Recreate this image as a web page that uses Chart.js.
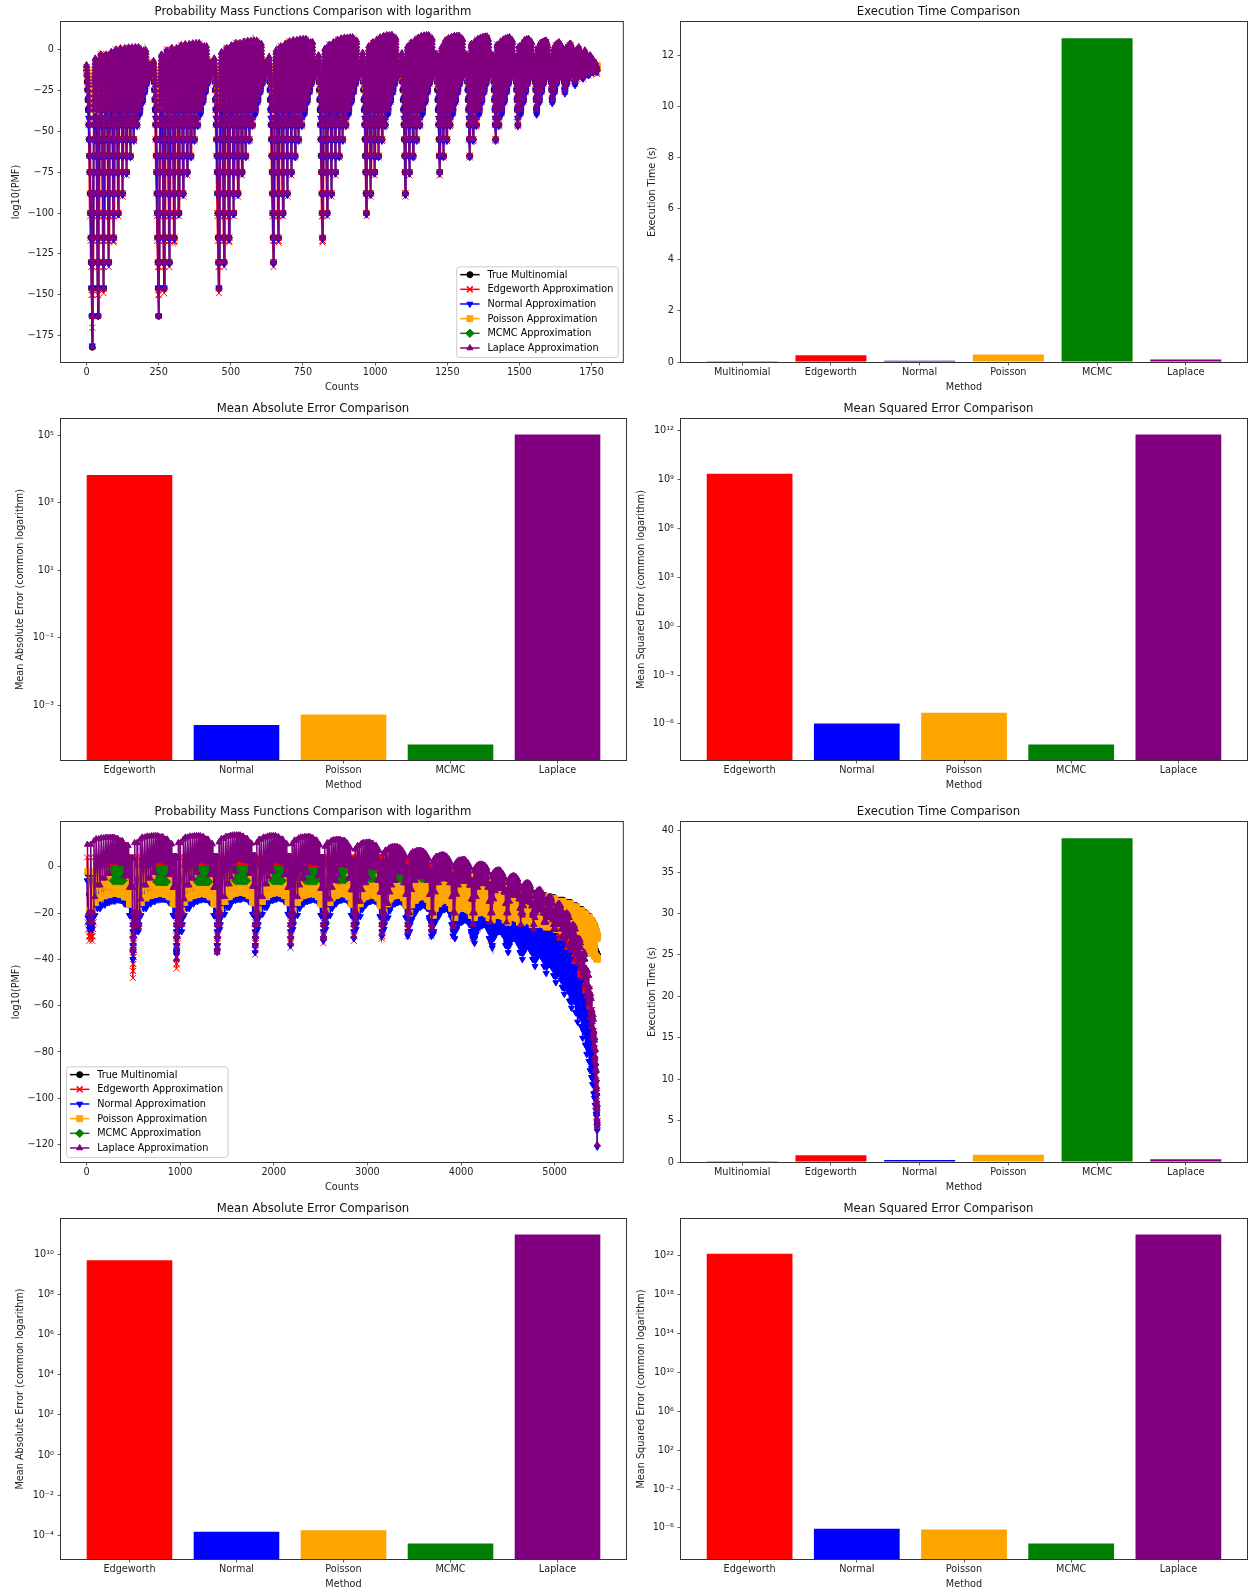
<!DOCTYPE html>
<html>
<head>
<meta charset="utf-8">
<script src="https://cdn.jsdelivr.net/npm/chart.js@4/dist/chart.umd.min.js"></script>
<style>
html, body { margin: 0; padding: 0; background: #fff; }
#page { position: relative; width: 1249px; height: 1591px; overflow: hidden; }
#page canvas { position: absolute; }
</style>
</head>
<body>
<div id="page"></div>
<script>
// ---------------- data ----------------

// bar charts
const methodsAll = ['Multinomial', 'Edgeworth', 'Normal', 'Poisson', 'MCMC', 'Laplace'];
const methodsApprox = ['Edgeworth', 'Normal', 'Poisson', 'MCMC', 'Laplace'];

const execTime1 = [0.03, 0.26, 0.05, 0.29, 12.68, 0.1];
const absError1 = [6600, 2.6e-4, 5.3e-4, 6.9e-5, 1.05e5];
const sqError1 = [2.3e9, 1.05e-6, 4.9e-6, 5.4e-8, 6.0e11];

const execTime2 = [0.1, 0.8, 0.25, 0.88, 39.1, 0.33];
const absError2 = [5.0e9, 1.5e-4, 1.8e-4, 3.9e-5, 9.5e10];
const sqError2 = [1.6e22, 8.5e-7, 6.8e-7, 2.5e-8, 1.55e24];

const execTicks1 = [0, 2, 4, 6, 8, 10, 12];
const execTicks2 = [0, 5, 10, 15, 20, 25, 30, 35, 40];
const absPowers1 = [-3, -1, 1, 3, 5];
const sqPowers1 = [-6, -3, 0, 3, 6, 9, 12];
const absPowers2 = [-4, -2, 0, 2, 4, 6, 8, 10];
const sqPowers2 = [-6, -2, 2, 6, 10, 14, 18, 22];

// PMF, first run: 20 trials over 4 categories, outcomes grouped in humps by the first count.
// Top lists hold the run peaks across each hump (left to right), dip lists the bottom levels,
// level lists the values the lines pass through on the way down and up.
const trials1 = 20;
const countTicks1 = [0, 250, 500, 750, 1000, 1250, 1500, 1750];
const logTicks1 = [-175, -150, -125, -100, -75, -50, -25, 0];

const laplaceTop1 = [
  [-9.5, -5.5, -3, -1.5, 0, 0.8, 1.3, 1.5, -0.5, -9.5],
  [-7, -3, -0.5, 1, 2.5, 3.3, 3.8, 4, 2, -8],
  [-5.5, -1.5, 1, 2.5, 4, 4.8, 5.3, 5.5, 3.5, -8],
  [-4.5, -0.5, 2, 3.5, 5, 5.8, 6.3, 6.5, 4.5, -8],
  [-3.5, 0.5, 3, 4.5, 6, 6.8, 7.3, 7.5, 5.5, -8],
  [-2, 2, 4.5, 6, 7.5, 8.3, 8.8, 9, 7, -8],
  [-2.2, 1.8, 4.3, 5.8, 7.3, 8.1, 8.6, 8.8, 6.8, -8],
  [-2.5, 1.5, 4, 5.5, 7, 7.8, 8.3, 8.5, 6.5, -8],
  [-3, 1, 3.5, 5, 6.5, 7.3, 7.8, 8, 6, -8],
  [-3.5, 0.5, 3, 4.5, 6, 6.8, 7.3, 7.5, 5.5, -8],
  [-4.5, -0.5, 2, 3.5, 5, 5.8, 6.3, 6.5, 4.5, -8],
  [-5.5, -1.5, 1, 2.5, 4, 4.8, 5.3, 5.5, 3.5, -8],
  [-6.5, -2.5, 0, 1.5, 3, 3.8, 4.3, 4.5, 2.5, -8],
  [-7.5, -3.5, -1, 0.5, 2, 2.8, 3.3, 3.5, 1.5, -8],
  [-9, -5, -2.5, -1, 0.5, 1.2, 1.5, -0.5, -9],
  [-10, -5, -2.5, -1, -0.5, -2.5, -10],
  [-10, -6, -4, -3.5, -10],
  [-10, -7, -6, -10],
  [-11, -8, -11],
  [-11, -10],
  [-12]
];
const laplaceDips1 = [-182, -163, -146, -130, -115, -100, -88, -75, -65, -55, -46, -37, -31, -25, -20, -17, -15, -14, -13, -12.5, -12];
const laplaceLevels1 = [-182, -163, -146, -130, -115, -100, -88, -75, -65, -55, -46, -42, -37, -34, -31, -28, -25, -22, -20, -18, -16, -14, -12, -10, -8, -6, -4, -2, 0, 2, 4, 6, 8];

const normalTop1 = [
  [-12, -4, -1, 0, -10], [-10, -1, 1.5, 2.5, -9], [-9, 0, 3, 4, -8], [-8, 1, 4, 5, -8],
  [-7, 2, 5, 6, -7], [-6, 3, 6, 7, -6], [-6, 3, 6, 7, -6], [-6, 3, 5.5, 6.5, -6],
  [-7, 2, 5, 6, -7], [-7, 2, 4.5, 5.5, -7], [-8, 1, 3.5, 4.5, -8], [-9, 0, 2.5, 3.5, -9],
  [-10, -1, 1.5, 2.5, -10], [-11, -2, 0.5, 1.5, -11], [-12, -3, -1, -11], [-12, -4, -3, -12],
  [-13, -6, -12], [-13, -9, -13], [-13, -12], [-13], [-14]
];
const normalDips1 = [-181, -163, -146, -131, -116, -101, -89, -76, -66, -56, -47, -40, -33, -27, -22, -18, -16, -14, -13, -12.5, -12];
const normalLevels1 = [-181, -163, -146, -131, -116, -101, -89, -76, -66, -56, -47, -42, -37, -31, -25, -20, -16, -12, -8, -4, 0, 4];

const edgeworthTop1 = [
  [-11, -3, 0, 1, -10], [-9, 0, 2.5, 3.5, -9], [-8, 1, 4, 5, -8], [-7, 2, 5, 6, -7],
  [-6, 3, 6, 7, -6], [-5, 4, 7, 8, -5], [-5, 4, 7, 8, -5], [-5, 4, 6.5, 7.5, -5],
  [-6, 3, 6, 7, -6], [-6, 3, 5.5, 6.5, -6], [-7, 2, 4.5, 5.5, -7], [-8, 1, 3.5, 4.5, -8],
  [-9, 0, 2.5, 3.5, -9], [-10, -1, 1.5, 2.5, -10], [-11, -2, 0, -11], [-11, -3, -2, -12],
  [-12, -5, -12], [-12, -8, -13], [-13, -13], [-14], [-15]
];
const edgeworthDips1 = [-170, -163, -149, -133, -118, -102, -90, -77, -66, -56, -47, -39, -32, -26, -21, -18, -16, -14, -13, -12, -11];
const edgeworthLevels1 = [-170, -163, -150, -146, -133, -130, -117, -115, -102, -100, -88, -75, -65, -55, -46, -37, -31, -25, -20, -16, -12, -8, -4, 0, 4];

const poissonTop1 = [
  [-13, -9, -7, -7, -8], [-11, -8, -6, -6, -7.5], [-11, -8, -6, -6, -7.5], [-11, -8, -6, -6, -7.5],
  [-11, -8, -6, -6, -7.5], [-11, -8, -6, -6, -7.5], [-11, -8, -6, -6, -7.5], [-11, -8, -6, -6, -7.5],
  [-11, -8, -6, -6, -7.5], [-11, -8, -6, -6, -7.5], [-11, -8, -6, -6, -7.5], [-11, -8, -6, -6, -7.5],
  [-11, -8, -6, -6, -7.5], [-11, -8, -6, -6, -7.5], [-11, -8, -7, -8], [-11, -9, -9],
  [-11, -9.5, -10], [-11, -10], [-11], [-11.5], [-12]
];
const poissonDips1 = [-37, -35, -33, -31, -29, -27, -25, -23, -21, -20, -18, -16, -15, -14, -13, -12.5, -12, -11.5, -11, -10.5, -10];
const poissonLevels1 = [-37, -31, -25, -20, -16, -13, -10, -8];

const trueTop1 = [
  [-13, -10, -8, -8, -10], [-11, -8, -6, -6, -9], [-11, -8, -6, -6, -9], [-11, -8, -6, -6, -9],
  [-11, -8, -6, -6, -9], [-11, -8, -6, -6, -9], [-11, -8, -6, -6, -9], [-11, -8, -6, -6, -9],
  [-11, -8, -6, -6, -9], [-11, -8, -6, -6, -9], [-11, -8, -6, -6, -9], [-11, -8, -6, -6, -9],
  [-11, -8, -6, -6, -9], [-11, -8, -6, -6, -9], [-11, -8, -7, -9], [-11, -9, -10],
  [-11, -10, -10.5], [-11, -10.5], [-11.5], [-12], [-12.5]
];
const trueDips1 = [-182, -163, -146, -130, -115, -100, -88, -75, -65, -55, -46, -37, -31, -25, -20, -17, -15, -14, -13, -12.5, -12];
const trueLevels1 = [-182, -163, -146, -130, -115, -100, -88, -75, -65, -55, -46, -37, -31, -25, -20, -16, -13, -10];

// MCMC only lands on a few outcomes: [from count, to count, top, bottom]
const mcmcPatches1 = [
  [1195, 1211, -4, -6.5], [1290, 1316, -4, -7], [1395, 1407, -4, -7], [1472, 1485, -4.5, -7],
  [1538, 1551, -4.5, -7], [1594, 1606, -5, -7.5], [1640, 1651, -5, -7.5], [1680, 1687, -5.5, -7.5]
];

// PMF, second run: 30 trials over 4 categories.
// Each series has peak and floor lists per hump, plus the spike at the hump's end.
const trials2 = 30;
const countTicks2 = [0, 1000, 2000, 3000, 4000, 5000];
const logTicks2 = [-120, -100, -80, -60, -40, -20, 0];

const laplaceTop2 = [
  [9.6, 11.1, 12, 12.4, 12.6, 12.6, 12.1, 11.1, 9.1, 3.6],
  [10.3, 11.8, 12.7, 13.1, 13.3, 13.3, 12.8, 11.8, 9.8, 4.3],
  [10.3, 11.8, 12.7, 13.1, 13.3, 13.3, 12.8, 11.8, 9.8, 4.3],
  [10.6, 12.1, 13, 13.4, 13.6, 13.6, 13.1, 12.1, 10.1, 4.6],
  [10.3, 11.8, 12.7, 13.1, 13.3, 13.3, 12.8, 11.8, 9.8, 4.3],
  [9.9, 11.4, 12.3, 12.7, 12.9, 12.9, 12.4, 11.4, 9.4, 3.9],
  [8.7, 10.2, 11.1, 11.5, 11.7, 11.7, 11.2, 10.2, 8.2, 2.7],
  [7.5, 9, 9.9, 10.3, 10.5, 10.5, 10, 9, 7, 1.5],
  [5.6, 7.1, 8, 8.4, 8.6, 8.6, 8.1, 7.1, 5.1, -0.4],
  [4, 5.5, 6.4, 6.8, 7, 7, 6.5, 5.5, 3.5, -2],
  [2, 3.5, 4.4, 4.8, 5, 5, 4.5, 3.5, 1.5, -4],
  [0, 1.5, 2.4, 2.8, 3, 3, 2.5, 1.5, -0.5, -6],
  [-2, -0.5, 0.4, 0.8, 1, 1, 0.5, -0.5, -2.5, -8],
  [-4.5, -3, -2.1, -1.7, -1.5, -1.5, -2, -3, -5, -10.5],
  [-7, -5.5, -4.6, -4.2, -4, -4, -4.5, -5.5, -7.5, -13],
  [-10, -8.5, -7.6, -7.2, -7, -7, -7.5, -8.5, -10.5, -16],
  [-13, -11.5, -10.6, -10.2, -10, -10, -10.5, -11.5, -13.5, -19],
  [-16, -14.5, -13.5, -13, -13, -14, -16, -21],
  [-19, -17.5, -16.5, -16, -16, -17, -19, -24],
  [-23, -21.5, -20.5, -20, -20.5, -22, -27],
  [-28, -26, -25, -25.5, -27, -32],
  [-34, -32, -31, -31.5, -33, -38],
  [-40, -38, -37, -38, -44],
  [-48, -46, -45, -47, -52],
  [-58, -56, -55, -57, -62],
  [-67, -65, -64, -66, -71],
  [-77, -75, -74, -79],
  [-87, -85, -88],
  [-96, -95, -98],
  [-104, -103],
  [-111]
];
const laplaceLow2 = [
  [-24, -13, -8, -5, -3, 2, 2.5, 1.5, -4, -9],
  [-26, -14, -8, -5, -2.5, 2.5, 3, 2, -3.5, -9],
  [-25, -14, -8, -5, -2.5, 2.5, 3, 2, -3.5, -9],
  [-24, -13, -7.5, -4.5, -2, 3, 3.5, 2.5, -3, -8.5],
  [-24, -13, -7.5, -4.5, -2, 2.5, 3, 2, -3.5, -9],
  [-23, -13, -8, -5, -2.5, 2, 2.5, 1.5, -4, -9.5],
  [-23, -14, -9, -6, -3.5, 1, 1.5, 0.5, -5, -10],
  [-23, -15, -10, -7, -4.5, 0, 0.5, -0.5, -6, -11],
  [-23, -16, -11, -8, -6, -2, -1.5, -2.5, -7, -12],
  [-20, -10, -6, -4.5, -4, -4, -4, -4.5, -6, -12],
  [-20, -11, -7, -5.5, -5, -5, -5, -5.5, -7, -13],
  [-20, -12, -8, -6.5, -6, -6, -6, -6.5, -8, -14],
  [-20, -13, -9, -7.5, -7, -7, -7, -7.5, -9, -15],
  [-20, -14, -10.5, -9.5, -9, -9, -9, -9.5, -11, -16],
  [-20, -15, -12.5, -12, -12, -12, -12, -12.5, -14, -18],
  [-21, -17, -15, -15, -15, -15, -15.5, -17, -21],
  [-22, -19, -18, -18, -18, -18.5, -20, -24],
  [-24, -22, -21, -21, -21.5, -23, -27],
  [-27, -25, -24, -24, -25, -27, -30],
  [-31, -29, -28, -28.5, -30, -34],
  [-36, -34, -33, -34, -38],
  [-42, -40, -39, -40, -44],
  [-48, -46, -45, -47, -51],
  [-56, -54, -53, -55, -59],
  [-65, -63, -63, -65, -69],
  [-74, -72, -72, -74, -78],
  [-84, -82, -83, -88],
  [-93, -92, -96],
  [-102, -101, -105],
  [-109, -112],
  [-120]
];
const laplaceEdge2 = [-36, -40, -37, -34, -33, -31, -30, -29, -28, -27, -26, -25, -24, -24, -25, -27];
const laplaceLevels2 = [-40, -35, -30, -25, -20];

const normalTop2 = [
  [-6], [-6], [-6], [-6], [-6], [-6], [-6], [-6], [-6], [-6], [-6],
  [-15], [-17], [-19], [-21], [-24], [-27], [-29], [-33], [-37], [-43],
  [-49], [-56], [-63], [-71], [-78], [-86], [-93], [-99], [-104], [-111]
];
const normalLow2 = [
  [-27, -21, -18, -16.5, -15.5, -14.8, -14.3, -14.5, -16, -21],
  [-28, -21, -18, -16, -15, -14.3, -14, -14.2, -15.5, -21],
  [-28, -21, -18, -16, -15, -14.3, -14, -14.2, -15.5, -21],
  [-27, -20.5, -17.5, -15.5, -14.5, -14, -13.5, -13.8, -15, -20.5],
  [-27, -20.5, -17.5, -15.5, -14.5, -14, -13.5, -13.8, -15, -20.5],
  [-27, -21, -18, -16, -15, -14.5, -14, -14.3, -15.5, -21],
  [-27, -21, -18, -16, -15, -14.5, -14, -14.3, -15.5, -21],
  [-27, -21.5, -18.5, -16.5, -15.5, -15, -14.5, -14.8, -16, -21.5],
  [-27, -22, -19, -17, -16, -15.5, -15, -15.3, -16.5, -22],
  [-28, -23, -20, -18.5, -17.5, -17, -16.5, -17, -18, -23],
  [-29, -24, -21.5, -20, -19, -18.5, -18, -18.5, -20, -25],
  [-31, -27, -25, -24, -23.5, -23, -23, -23.5, -25, -29],
  [-33, -29, -27, -26, -25.5, -25, -25, -25.5, -27, -31],
  [-35, -31, -29.5, -28.5, -28, -28, -28, -29, -30, -34],
  [-37, -34, -32, -31, -31, -31, -31.5, -32.5, -34, -37],
  [-40, -37, -35, -34.5, -34.5, -35, -36, -37, -40],
  [-43, -40, -38.5, -38, -38, -39, -40, -43],
  [-46, -43, -42, -42, -43, -44, -47],
  [-50, -47, -46, -46, -47, -49, -52],
  [-55, -52, -51, -52, -54, -58],
  [-61, -58, -57, -58, -63],
  [-67, -64, -63, -65, -69],
  [-74, -71, -70, -72, -77],
  [-81, -78, -77, -79, -84],
  [-88, -85, -85, -87, -91],
  [-94, -92, -92, -94, -98],
  [-100, -98, -99, -103],
  [-105, -103, -107],
  [-108, -107, -110],
  [-112, -114],
  [-121]
];
const normalEdge2 = [-40, -38, -37, -37, -34, -32, -31, -30, -30, -30, -30, -31, -32, -33, -35, -38];
const normalLevels2 = [-40, -37, -34, -31, -28, -25, -22];

const poissonTop2 = [
  [-2, -2, -2, -2, -2, -2.5, -4, -5.5, -5.5, -3],
  [-2, -2, -2, -2, -2, -2.5, -4, -5.5, -5.5, -3],
  [-2, -2, -2, -2, -2, -2.5, -4, -5.5, -5.5, -3],
  [-2, -2, -2, -2, -2, -2.5, -4, -5.5, -5.5, -3],
  [-2, -2, -2, -2, -2, -2.5, -4, -5.5, -5.5, -3],
  [-2, -2, -2, -2, -2, -2.5, -4, -5.5, -5.5, -3],
  [-2, -2, -2, -2, -2, -2.5, -4, -5.5, -5.5, -3],
  [-2.5, -2.5, -2.5, -2.5, -2.5, -3, -4, -5.5, -5.5, -3.5],
  [-3, -3, -3, -3, -3, -3.5, -4.5, -5.5, -5.5, -4],
  [-3], [-4], [-5], [-7], [-9], [-11], [-12], [-13], [-14], [-15], [-16], [-17.5],
  [-19], [-20.5], [-22], [-23.5], [-25], [-26.5], [-28], [-29], [-30], [-31]
];
const poissonLow2 = [
  [-19, -15.5, -13.5, -12.5, -12, -11.5, -11.5, -12, -13, -16],
  [-19, -15.5, -13.5, -12.5, -12, -11.5, -11.5, -12, -13, -16],
  [-19, -15.5, -13.5, -12.5, -12, -11.5, -11.5, -12, -13, -16],
  [-18.5, -15, -13, -12, -11.5, -11, -11, -11.5, -12.5, -15.5],
  [-18.5, -15, -13, -12, -11.5, -11, -11, -11.5, -12.5, -15.5],
  [-19, -15.5, -13.5, -12.5, -12, -11.5, -11.5, -12, -13, -16],
  [-19, -15.5, -13.5, -12.5, -12, -11.5, -11.5, -12, -13, -16],
  [-19, -16, -14, -13, -12.5, -12, -12, -12.5, -13.5, -16.5],
  [-19.5, -16, -14, -13, -12.5, -12, -12, -12.5, -13.5, -16.5],
  [-20, -16.5, -14.5, -13.5, -13, -12.5, -12.5, -13, -14, -17],
  [-21, -18, -16, -15, -14.5, -14, -14, -14.5, -15.5, -18],
  [-22, -19, -18, -18, -18, -18, -18, -18.5, -19, -21],
  [-22, -20, -19.5, -19.5, -19.5, -20, -20.5, -22],
  [-23, -21, -20.5, -20.5, -21, -21.5, -23],
  [-24, -22, -21.5, -21.5, -22, -22.5, -24],
  [-24, -23, -22.5, -23, -23.5, -25],
  [-25, -24, -23.5, -24, -25],
  [-26, -25, -25, -26],
  [-27, -26, -26.5, -27.5],
  [-29, -28, -28.5, -29.5],
  [-30.5, -30, -31],
  [-32, -32.5],
  [-33, -34],
  [-34.5, -35.5],
  [-36, -37],
  [-37.5], [-38.5], [-39], [-39.5], [-39.5], [-40]
];

const edgeworthTop2 = [
  [4], [4], [4], [4], [4], [4], [4], [4], [3], [1], [-1],
  [-7], [-9], [-11], [-13], [-15], [-18], [-21], [-24], [-28], [-33],
  [-39], [-45], [-53], [-62], [-71], [-81], [-90], [-99], [-106], [-110]
];
const edgeworthLow2 = [
  [-32, -9, -9, -9, -9, -9, -9, -9, -9, -9],
  [-9], [-9], [-9], [-9], [-9], [-9], [-9], [-9], [-9], [-10],
  [-18], [-20], [-22], [-25], [-27], [-30], [-33], [-37], [-42], [-48],
  [-54], [-61], [-69], [-77], [-85], [-93], [-100], [-106], [-110], [-112]
];
const edgeworthEdge2 = [-48, -44, -35, -38, -35, -33, -32, -31, -30, -30, -30, -31, -32, -33, -35, -38];
const edgeworthLevels2 = [-48, -45, -42, -39, -36, -33, -30, -27, -24];

const trueTop2 = [
  [-3], [-3], [-3], [-3], [-3], [-3], [-3], [-3], [-3], [-5], [-6], [-8], [-9], [-10],
  [-10.5], [-11.5], [-12.5], [-13.5], [-14.5], [-15.5], [-17], [-18.5], [-20], [-21.5],
  [-23], [-24.5], [-26], [-27.5], [-28.5], [-29.5], [-30.5]
];
const trueLow2 = [
  [-12], [-12], [-12], [-12], [-12], [-12], [-12], [-12], [-12], [-12], [-13],
  [-17], [-19], [-20], [-21], [-22], [-23], [-24], [-25], [-27], [-28.5],
  [-30], [-31], [-32.5], [-34], [-35], [-36], [-37], [-37.5], [-38], [-38]
];

const mcmcPatches2 = [
  [270, 395, -1.5, -6], [720, 860, -1.5, -6.5], [1160, 1300, -1.5, -6.5], [1570, 1710, -1.5, -6],
  [1960, 2090, -1.5, -6], [2320, 2450, -2, -6], [2640, 2760, -2, -5.5], [2960, 3060, -2.5, -5],
  [3260, 3350, -3, -5], [3560, 3620, -3.5, -5]
];

// ---------------- styles ----------------

const FONT = '"DejaVu Sans", sans-serif';
const INK = '#222';
const SERIES = [
  { label: 'True Multinomial', color: '#000000', marker: 'circle', r: 3, rot: 0 },
  { label: 'Edgeworth Approximation', color: '#ff0000', marker: 'crossRot', r: 4.2, rot: 0 },
  { label: 'Normal Approximation', color: '#0000ff', marker: 'triangle', r: 3.5, rot: 180 },
  { label: 'Poisson Approximation', color: '#ffa500', marker: 'rect', r: 4.2, rot: 0 },
  { label: 'MCMC Approximation', color: '#008000', marker: 'rectRot', r: 4.2, rot: 0 },
  { label: 'Laplace Approximation', color: '#800080', marker: 'triangle', r: 3.5, rot: 0 }
];
const barColorsAll = ['#000000', '#ff0000', '#0000ff', '#ffa500', '#008000', '#800080'];
const barColorsApprox = ['#ff0000', '#0000ff', '#ffa500', '#008000', '#800080'];

// ---------------- building the PMF lines ----------------

function humpStarts(trials) {
  const starts = [];
  let s = 0;
  for (let k = 0; k <= trials; k++) {
    starts.push(s);
    const r = trials + 1 - k;
    s += r * (r + 1) / 2;
  }
  return starts;
}

// every run of outcomes: hump k, run j inside it, first index and length
function runsOf(trials) {
  const out = [];
  const starts = humpStarts(trials);
  for (let k = 0; k <= trials; k++) {
    const runs = trials + 1 - k;
    const width = runs * (runs + 1) / 2;
    let s = starts[k];
    for (let j = 0; j < runs; j++) {
      const m = runs - j;
      out.push({ k, j, last: j === runs - 1, s, m, f: (s - starts[k] + (m - 1) / 2) / width });
      s += m;
    }
  }
  return out;
}

function pick(list, f) {
  return list[Math.min(list.length - 1, Math.floor(f * list.length))];
}

function pmfPoints(spec, trials) {
  const pts = [];
  const levels = spec.levels || [];
  let prev = null;
  for (const r of runsOf(trials)) {
    const peak = pick(spec.top[r.k], r.f);
    let dip;
    if (r.last && spec.edge && spec.edge[r.k] !== undefined) dip = spec.edge[r.k];
    else if (spec.low) dip = pick(spec.low[r.k], r.f);
    else dip = spec.dips[Math.min(r.k + r.j, spec.dips.length - 1)];
    const ys = [];
    if (prev !== null) levels.filter(v => v > prev && v < peak).sort((a, b) => a - b).forEach(v => ys.push(v));
    ys.push(peak);
    levels.filter(v => v > dip && v < peak).sort((a, b) => b - a).forEach(v => ys.push(v));
    ys.push(dip);
    ys.forEach((y, i) => pts.push({ x: r.s - 1 + (i + 1) * r.m / ys.length, y }));
    prev = dip;
  }
  return pts;
}

function patchPoints(patches, trials) {
  const pts = [];
  for (const r of runsOf(trials)) {
    const mid = r.s + (r.m - 1) / 2;
    const p = patches.find(q => mid >= q[0] && mid <= q[1]);
    if (!p) {
      if (pts.length && pts[pts.length - 1].y !== null) pts.push({ x: mid, y: null });
      continue;
    }
    pts.push({ x: mid, y: p[2] }, { x: r.s + r.m - 1, y: p[3] });
  }
  return pts;
}

// ---------------- labels ----------------

const SUP = { '0': '\u2070', '1': '\u00b9', '2': '\u00b2', '3': '\u00b3', '4': '\u2074', '5': '\u2075', '6': '\u2076', '7': '\u2077', '8': '\u2078', '9': '\u2079', '-': '\u207b' };
const powerLabel = v => '10' + String(Math.round(Math.log10(v))).split('').map(c => SUP[c]).join('');
const minusLabel = v => String(v).replace('-', '\u2212');

// ---------------- plugins ----------------

// axes box on all four sides
const frame = {
  id: 'frame',
  afterDatasetsDraw(chart) {
    const { ctx, chartArea: a } = chart;
    ctx.save();
    ctx.strokeStyle = '#333';
    ctx.lineWidth = 1;
    ctx.strokeRect(a.left - 0.5, a.top - 0.5, a.width + 1, a.height + 1);
    ctx.restore();
  }
};

function drawMarker(ctx, s, x, y) {
  ctx.save();
  ctx.fillStyle = s.color;
  ctx.strokeStyle = s.color;
  ctx.lineWidth = 1;
  ctx.beginPath();
  const r = s.r;
  if (s.marker === 'circle') {
    ctx.arc(x, y, r, 0, Math.PI * 2);
    ctx.fill();
  } else if (s.marker === 'crossRot') {
    const d = r * Math.SQRT1_2;
    ctx.lineWidth = 1.5;
    ctx.moveTo(x - d, y - d); ctx.lineTo(x + d, y + d);
    ctx.moveTo(x - d, y + d); ctx.lineTo(x + d, y - d);
  } else if (s.marker === 'triangle') {
    const dir = s.rot ? -1 : 1;
    const w = r * Math.sin(Math.PI / 3);
    ctx.moveTo(x, y - dir * r);
    ctx.lineTo(x + w, y + dir * r / 2);
    ctx.lineTo(x - w, y + dir * r / 2);
    ctx.closePath();
    ctx.fill();
  } else if (s.marker === 'rect') {
    const d = r * Math.SQRT1_2;
    ctx.rect(x - d, y - d, 2 * d, 2 * d);
    ctx.fill();
  } else if (s.marker === 'rectRot') {
    ctx.moveTo(x - r, y); ctx.lineTo(x, y - r); ctx.lineTo(x + r, y); ctx.lineTo(x, y + r);
    ctx.closePath();
    ctx.fill();
  }
  ctx.stroke();
  ctx.restore();
}

const legendBox = {
  id: 'legendBox',
  afterDraw(chart, args, opts) {
    if (!opts || !opts.corner) return;
    const { ctx, chartArea: a } = chart;
    ctx.save();
    ctx.font = '9.7px ' + FONT;
    const textW = Math.max(...SERIES.map(s => ctx.measureText(s.label).width));
    const w = 4 + 19.4 + 7.8 + textW + 4.5;
    const rowGap = 14.67;
    const h = 8.3 + rowGap * (SERIES.length - 1) + 9;
    const x = opts.corner === 'br' ? a.right - 5 - w : a.left + 5;
    const y = a.bottom - 5 - h;
    ctx.beginPath();
    if (ctx.roundRect) ctx.roundRect(x + 0.5, y + 0.5, w, h, 3); else ctx.rect(x + 0.5, y + 0.5, w, h);
    ctx.fillStyle = 'rgba(255,255,255,0.8)';
    ctx.fill();
    ctx.strokeStyle = '#cccccc';
    ctx.lineWidth = 1;
    ctx.stroke();
    SERIES.forEach((s, i) => {
      const cy = y + 8.3 + i * rowGap;
      ctx.beginPath();
      ctx.strokeStyle = s.color;
      ctx.lineWidth = 1.5;
      ctx.moveTo(x + 4, cy);
      ctx.lineTo(x + 23.4, cy);
      ctx.stroke();
      drawMarker(ctx, s, x + 13.7, cy);
      ctx.fillStyle = '#000';
      ctx.textBaseline = 'middle';
      ctx.textAlign = 'left';
      ctx.fillText(s.label, x + 31.2, cy + 0.5);
    });
    ctx.restore();
  }
};

Chart.register(frame, legendBox);
Chart.defaults.font.family = FONT;

// ---------------- layout ----------------

const COLS = [{ left: 0, axisLeft: 61, axisRight: 626 }, { left: 630, axisLeft: 681, axisRight: 1247 }];
const ROWS = [{ top: 22, bottom: 362 }, { top: 419, bottom: 760 }, { top: 822, bottom: 1162 }, { top: 1219, bottom: 1559 }];
const TITLE_H = 22;
const XAXIS_H = 34;

function place(row, col) {
  const c = COLS[col], r = ROWS[row];
  const cv = document.createElement('canvas');
  const w = c.axisRight + 2 - c.left;
  const h = TITLE_H + (r.bottom - r.top) + XAXIS_H;
  cv.width = w;
  cv.height = h;
  cv.style.left = c.left + 'px';
  cv.style.top = (r.top - TITLE_H) + 'px';
  cv.style.width = w + 'px';
  cv.style.height = h + 'px';
  document.getElementById('page').appendChild(cv);
  return { cv, yWidth: c.axisLeft - c.left };
}

function axis(o) {
  return {
    type: o.type, min: o.min, max: o.max, offset: false,
    afterBuildTicks: s => { s.ticks = o.ticks.map(v => ({ value: v })); },
    afterFit: s => { if (o.vertical) s.width = o.size; else s.height = o.size; },
    ticks: {
      color: INK, font: { family: FONT, size: 9.7 }, padding: o.vertical ? 3.5 : 1.5,
      autoSkip: false, maxRotation: 0, minRotation: 0, callback: o.label
    },
    grid: { display: true, drawOnChartArea: false, drawTicks: true, tickLength: 3.5, tickWidth: 0.8, tickColor: '#333', offset: false },
    border: { display: false },
    title: {
      display: true, text: o.title, color: INK, font: { family: FONT, size: 9.7 },
      padding: o.vertical ? { top: o.titlePad, bottom: 0 } : { top: 0, bottom: 3 }
    }
  };
}

function baseOptions(title, x, y, legend) {
  return {
    responsive: false,
    animation: false,
    events: [],
    layout: { padding: { left: 0, right: 2, top: 0, bottom: 0 } },
    plugins: {
      legend: { display: false },
      tooltip: { enabled: false },
      title: {
        display: true, text: title, color: '#111',
        font: { family: FONT, size: 11.7, weight: 'normal', lineHeight: 1.2 },
        padding: { top: 4.5, bottom: 3.46 }
      },
      legendBox: legend || {}
    },
    scales: { x, y }
  };
}

function pmfChart(slot, o) {
  const datasets = SERIES.map((s, i) => ({
    label: s.label,
    data: o.points[i],
    order: SERIES.length - i,
    borderColor: s.color,
    borderWidth: 1.5,
    pointStyle: s.marker,
    pointRotation: s.rot,
    pointRadius: s.r,
    pointBackgroundColor: s.color,
    pointBorderColor: s.color,
    pointBorderWidth: 1,
    pointHoverRadius: 0,
    pointHitRadius: 0,
    tension: 0,
    fill: false,
    spanGaps: false,
    parsing: false,
    normalized: true
  }));
  new Chart(slot.cv, {
    type: 'line',
    data: { datasets },
    options: baseOptions('Probability Mass Functions Comparison with logarithm',
      axis({ type: 'linear', min: o.xMin, max: o.xMax, ticks: o.xTicks, label: v => String(v), size: XAXIS_H, title: 'Counts' }),
      axis({ type: 'linear', min: o.yMin, max: o.yMax, ticks: o.yTicks, label: minusLabel, size: slot.yWidth, vertical: true, titlePad: 10.7, title: 'log10(PMF)' }),
      { corner: o.corner })
  });
}

function barChart(slot, o) {
  const n = o.methods.length;
  const span = n - 1 + 0.8;
  const xMin = -0.4 - 0.05 * span, xMax = n - 1 + 0.4 + 0.05 * span;
  let yAxis;
  if (o.log) {
    const lo = Math.log10(Math.min(...o.values)), hi = Math.log10(Math.max(...o.values));
    const pad = 0.05 * (hi - lo);
    yAxis = axis({
      type: 'logarithmic', min: Math.pow(10, lo - pad), max: Math.pow(10, hi + pad),
      ticks: o.powers.map(p => Math.pow(10, p)), label: powerLabel, size: slot.yWidth,
      vertical: true, titlePad: o.titlePad, title: o.yTitle
    });
  } else {
    yAxis = axis({
      type: 'linear', min: 0, max: 1.05 * Math.max(...o.values), ticks: o.ticks,
      label: v => String(v), size: slot.yWidth, vertical: true, titlePad: o.titlePad, title: o.yTitle
    });
  }
  new Chart(slot.cv, {
    type: 'bar',
    data: {
      datasets: [{
        data: o.values.map((v, i) => ({ x: i, y: v })),
        backgroundColor: o.colors,
        borderWidth: 0,
        barPercentage: 0.8,
        categoryPercentage: 1
      }]
    },
    options: baseOptions(o.title,
      axis({ type: 'linear', min: xMin, max: xMax, ticks: o.methods.map((m, i) => i), label: v => o.methods[v], size: XAXIS_H, title: 'Method' }),
      yAxis, null)
  });
}

// ---------------- charts ----------------

const pmf1 = [
  pmfPoints({ top: trueTop1, dips: trueDips1, levels: trueLevels1 }, trials1),
  pmfPoints({ top: edgeworthTop1, dips: edgeworthDips1, levels: edgeworthLevels1 }, trials1),
  pmfPoints({ top: normalTop1, dips: normalDips1, levels: normalLevels1 }, trials1),
  pmfPoints({ top: poissonTop1, dips: poissonDips1, levels: poissonLevels1 }, trials1),
  patchPoints(mcmcPatches1, trials1),
  pmfPoints({ top: laplaceTop1, dips: laplaceDips1, levels: laplaceLevels1 }, trials1)
];
const pmf2 = [
  pmfPoints({ top: trueTop2, low: trueLow2 }, trials2),
  pmfPoints({ top: edgeworthTop2, low: edgeworthLow2, edge: edgeworthEdge2, levels: edgeworthLevels2 }, trials2),
  pmfPoints({ top: normalTop2, low: normalLow2, edge: normalEdge2, levels: normalLevels2 }, trials2),
  pmfPoints({ top: poissonTop2, low: poissonLow2 }, trials2),
  patchPoints(mcmcPatches2, trials2),
  pmfPoints({ top: laplaceTop2, low: laplaceLow2, edge: laplaceEdge2, levels: laplaceLevels2 }, trials2)
];

pmfChart(place(0, 0), { points: pmf1, xMin: -88.5, xMax: 1858.5, yMin: -191, yMax: 16.7, xTicks: countTicks1, yTicks: logTicks1, corner: 'br' });
barChart(place(0, 1), { title: 'Execution Time Comparison', methods: methodsAll, values: execTime1, colors: barColorsAll, ticks: execTicks1, yTitle: 'Execution Time (s)', titlePad: 16.2 });
barChart(place(1, 0), { title: 'Mean Absolute Error Comparison', methods: methodsApprox, values: absError1, colors: barColorsApprox, log: true, powers: absPowers1, yTitle: 'Mean Absolute Error (common logarithm)', titlePad: 14.2 });
barChart(place(1, 1), { title: 'Mean Squared Error Comparison', methods: methodsApprox, values: sqError1, colors: barColorsApprox, log: true, powers: sqPowers1, yTitle: 'Mean Squared Error (common logarithm)', titlePad: 5.2 });

pmfChart(place(2, 0), { points: pmf2, xMin: -272.75, xMax: 5727.75, yMin: -127.5, yMax: 19.3, xTicks: countTicks2, yTicks: logTicks2, corner: 'bl' });
barChart(place(2, 1), { title: 'Execution Time Comparison', methods: methodsAll, values: execTime2, colors: barColorsAll, ticks: execTicks2, yTitle: 'Execution Time (s)', titlePad: 16.2 });
barChart(place(3, 0), { title: 'Mean Absolute Error Comparison', methods: methodsApprox, values: absError2, colors: barColorsApprox, log: true, powers: absPowers2, yTitle: 'Mean Absolute Error (common logarithm)', titlePad: 14.2 });
barChart(place(3, 1), { title: 'Mean Squared Error Comparison', methods: methodsApprox, values: sqError2, colors: barColorsApprox, log: true, powers: sqPowers2, yTitle: 'Mean Squared Error (common logarithm)', titlePad: 5.2 });
</script>
</body>
</html>
